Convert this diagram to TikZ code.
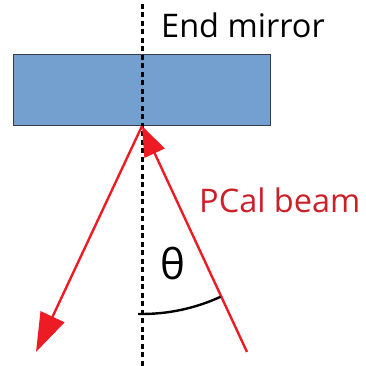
\documentclass[tikz,border=0pt]{standalone}
\usepackage{fontspec}
\setmainfont{Open Sans}
\usetikzlibrary{arrows.meta}
\definecolor{beamred}{RGB}{237,28,36}
\definecolor{textred}{RGB}{204,32,40}
\definecolor{mirrorblue}{RGB}{116,160,208}
\definecolor{mirroredge}{RGB}{55,60,70}
\tikzset{
  beam/.style={draw=beamred, line width=2.4pt},
  intip/.style={-{Triangle[length=30pt,width=22pt]}},
  outtip/.style={-{Triangle[length=39pt,width=26pt]}},
  axisline/.style={draw=black, line width=3pt, dash pattern=on 5pt off 3.5pt},
  mirrorbox/.style={draw=mirroredge, line width=1pt, fill=mirrorblue, minimum width=257pt, minimum height=71pt, inner sep=0pt},
  lbl/.style={inner sep=0pt, anchor=base west, font=\fontsize{32.5}{38}\selectfont},
  anglearc/.style={draw=black, line width=2.4pt}
}
\begin{document}
\begin{tikzpicture}[x=1pt,y=1pt]
\useasboundingbox (0,0) rectangle (365,366);
\node[mirrorbox] (mirror) at (141.5,275.5) {};
\coordinate (axtop) at (142,362);
\coordinate (axbot) at (142,0);
\coordinate (m) at (142,240);
\coordinate (src) at (247,14);
\coordinate (out) at (36,14);
\draw[axisline] (axtop) -- (axbot);
\draw[beam, intip] (src) -- (m);
\draw[beam, outtip] (m) -- (out);
\draw[anglearc] (m) ++(-91.2:188) arc[start angle=-91.2, end angle=-65.3, radius=188];
\node[lbl] (endm) at (161,328) {End mirror};
\node[lbl, text=textred] (pcal) at (199,153) {PCal beam};
\node[inner sep=0pt, anchor=base west, font=\fontsize{42}{48}\selectfont] (theta) at (160,86) {θ};
\end{tikzpicture}
\end{document}
